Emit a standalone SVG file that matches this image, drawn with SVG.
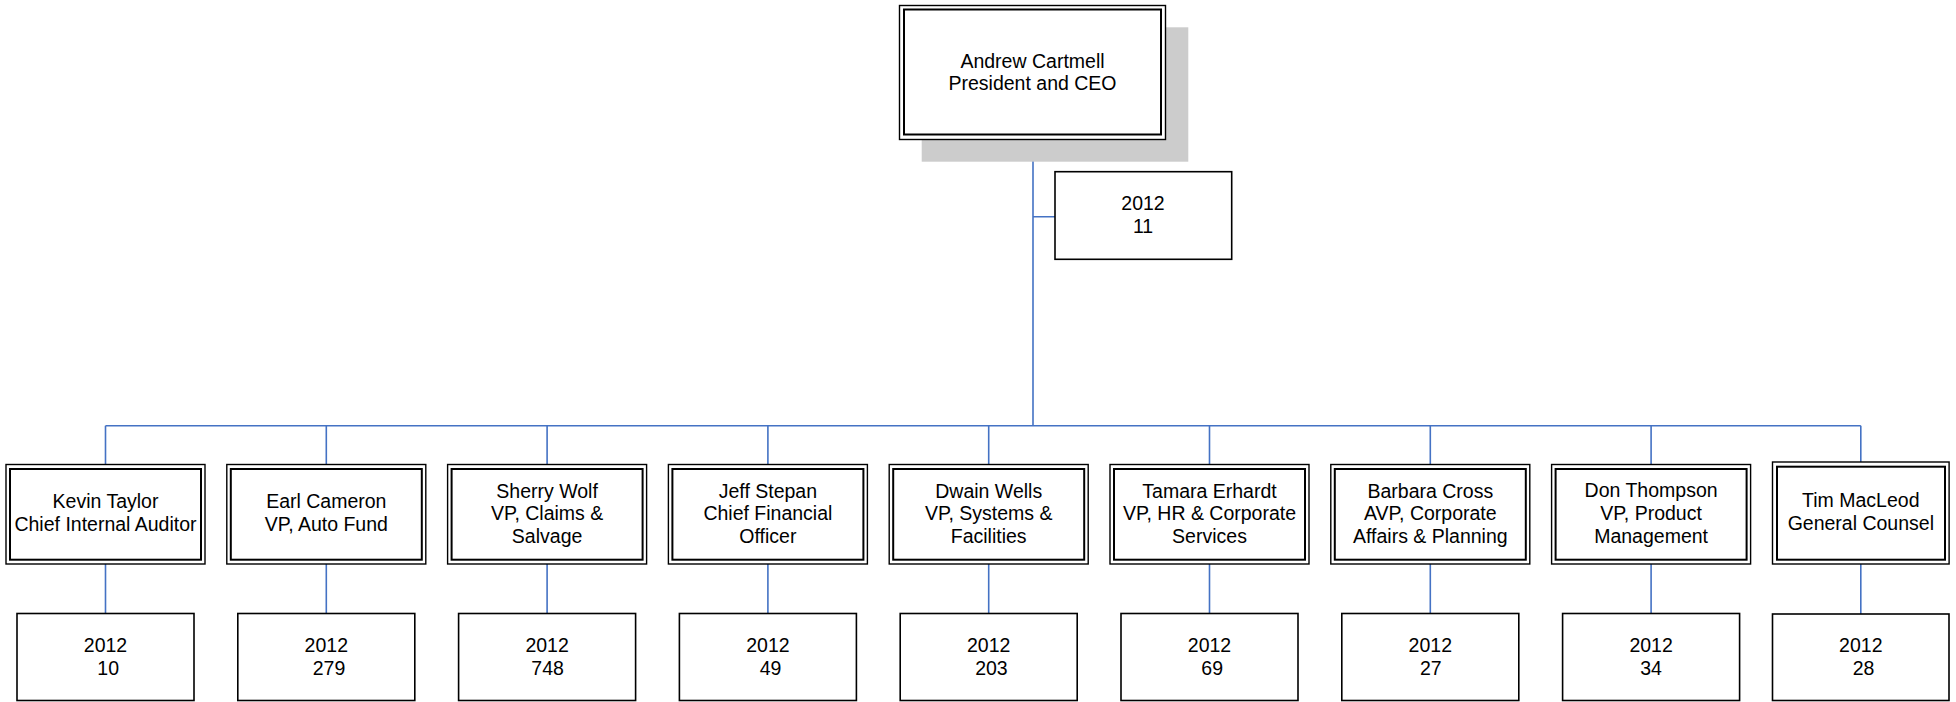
<svg xmlns="http://www.w3.org/2000/svg" width="1956" height="702" viewBox="0 0 1956 702">
<style>
.o{fill:#fff;stroke:#000;stroke-width:1.4}
.i{fill:none;stroke:#000;stroke-width:2}
.b{fill:#fff;stroke:#000;stroke-width:1.6}
.sh{fill:#cccccc}
.c{fill:none;stroke:#4472C4;stroke-width:1.6}
text{font-family:"Liberation Sans",Arial,sans-serif;font-size:19.5px;fill:#000;text-anchor:middle}
</style>
<rect width="1956" height="702" fill="#fff"/>
<g id="connectors">
<path class="c" d="M1033 139.3V425.7M1033 216.7H1055M105.5 425.7H1860.8"/>
<path class="c" d="M105.5 425.7V464.5M326.3 425.7V464.5M547.1 425.7V464.5M767.9 425.7V464.5M988.7 425.7V464.5M1209.5 425.7V464.5M1430.3 425.7V464.5M1651.1 425.7V464.5M1860.8 425.7V462"/>
<path class="c" d="M105.5 564V613.5M326.3 564V613.5M547.1 564V613.5M767.9 564V613.5M988.7 564V613.5M1209.5 564V613.5M1430.3 564V613.5M1651.1 564V613.5M1860.8 564V614"/>
</g>
<g id="ceo">
<rect class="sh" x="921.7" y="27.3" width="266.6" height="134.4"/>
<rect class="o" x="899.5" y="5.5" width="266" height="134"/>
<rect class="i" x="904" y="9.5" width="257" height="125"/>
<text x="1032.5" y="67.5">Andrew Cartmell</text>
<text x="1032.5" y="90">President and CEO</text>
</g>
<g id="ceo-count">
<rect class="b" x="1055" y="171.7" width="176.7" height="87.6"/>
<text x="1143" y="210">2012</text>
<text x="1143" y="233">11</text>
</g>
<g id="kevin">
<rect class="o" x="6" y="464.5" width="199" height="99.5"/>
<rect class="i" x="10" y="469" width="191" height="90.7"/>
<text x="105.5" y="507.5">Kevin Taylor</text>
<text x="105.5" y="530.5">Chief Internal Auditor</text>
</g>
<g id="kevin-count">
<rect class="b" x="17" y="613.5" width="177" height="87"/>
<text x="105.5" y="652.3">2012</text>
<text x="108.2" y="675">10</text>
</g>
<g id="earl">
<rect class="o" x="226.8" y="464.5" width="199" height="99.5"/>
<rect class="i" x="230.8" y="469" width="191" height="90.7"/>
<text x="326.3" y="507.5">Earl Cameron</text>
<text x="326.3" y="530.5">VP, Auto Fund</text>
</g>
<g id="earl-count">
<rect class="b" x="237.8" y="613.5" width="177" height="87"/>
<text x="326.3" y="652.3">2012</text>
<text x="329" y="675">279</text>
</g>
<g id="sherry">
<rect class="o" x="447.6" y="464.5" width="199" height="99.5"/>
<rect class="i" x="451.6" y="469" width="191" height="90.7"/>
<text x="547.1" y="497.5">Sherry Wolf</text>
<text x="547.1" y="520">VP, Claims &amp;</text>
<text x="547.1" y="542.5">Salvage</text>
</g>
<g id="sherry-count">
<rect class="b" x="458.6" y="613.5" width="177" height="87"/>
<text x="547.1" y="652.3">2012</text>
<text x="547.6" y="675">748</text>
</g>
<g id="jeff">
<rect class="o" x="668.4" y="464.5" width="199" height="99.5"/>
<rect class="i" x="672.4" y="469" width="191" height="90.7"/>
<text x="767.9" y="497.5">Jeff Stepan</text>
<text x="767.9" y="520">Chief Financial</text>
<text x="767.9" y="542.5">Officer</text>
</g>
<g id="jeff-count">
<rect class="b" x="679.4" y="613.5" width="177" height="87"/>
<text x="767.9" y="652.3">2012</text>
<text x="770.6" y="675">49</text>
</g>
<g id="dwain">
<rect class="o" x="889.2" y="464.5" width="199" height="99.5"/>
<rect class="i" x="893.2" y="469" width="191" height="90.7"/>
<text x="988.7" y="497.5">Dwain Wells</text>
<text x="988.7" y="520">VP, Systems &amp;</text>
<text x="988.7" y="542.5">Facilities</text>
</g>
<g id="dwain-count">
<rect class="b" x="900.2" y="613.5" width="177" height="87"/>
<text x="988.7" y="652.3">2012</text>
<text x="991.4" y="675">203</text>
</g>
<g id="tamara">
<rect class="o" x="1110" y="464.5" width="199" height="99.5"/>
<rect class="i" x="1114" y="469" width="191" height="90.7"/>
<text x="1209.5" y="497.5">Tamara Erhardt</text>
<text x="1209.5" y="520">VP, HR &amp; Corporate</text>
<text x="1209.5" y="542.5">Services</text>
</g>
<g id="tamara-count">
<rect class="b" x="1121" y="613.5" width="177" height="87"/>
<text x="1209.5" y="652.3">2012</text>
<text x="1212.2" y="675">69</text>
</g>
<g id="barbara">
<rect class="o" x="1330.8" y="464.5" width="199" height="99.5"/>
<rect class="i" x="1334.8" y="469" width="191" height="90.7"/>
<text x="1430.3" y="497.5">Barbara Cross</text>
<text x="1430.3" y="520">AVP, Corporate</text>
<text x="1430.3" y="542.5">Affairs &amp; Planning</text>
</g>
<g id="barbara-count">
<rect class="b" x="1341.8" y="613.5" width="177" height="87"/>
<text x="1430.3" y="652.3">2012</text>
<text x="1430.8" y="675">27</text>
</g>
<g id="don">
<rect class="o" x="1551.6" y="464.5" width="199" height="99.5"/>
<rect class="i" x="1555.6" y="469" width="191" height="90.7"/>
<text x="1651.1" y="497">Don Thompson</text>
<text x="1651.1" y="519.5">VP, Product</text>
<text x="1651.1" y="542.5">Management</text>
</g>
<g id="don-count">
<rect class="b" x="1562.6" y="613.5" width="177" height="87"/>
<text x="1651.1" y="652.3">2012</text>
<text x="1651.1" y="675">34</text>
</g>
<g id="tim">
<rect class="o" x="1772.5" y="462" width="176.6" height="102"/>
<rect class="i" x="1777" y="466.7" width="168" height="93"/>
<text x="1860.8" y="507">Tim MacLeod</text>
<text x="1860.8" y="530">General Counsel</text>
</g>
<g id="tim-count">
<rect class="b" x="1772.5" y="614" width="176.5" height="86.5"/>
<text x="1860.8" y="652.3">2012</text>
<text x="1863.5" y="675">28</text>
</g>
</svg>
